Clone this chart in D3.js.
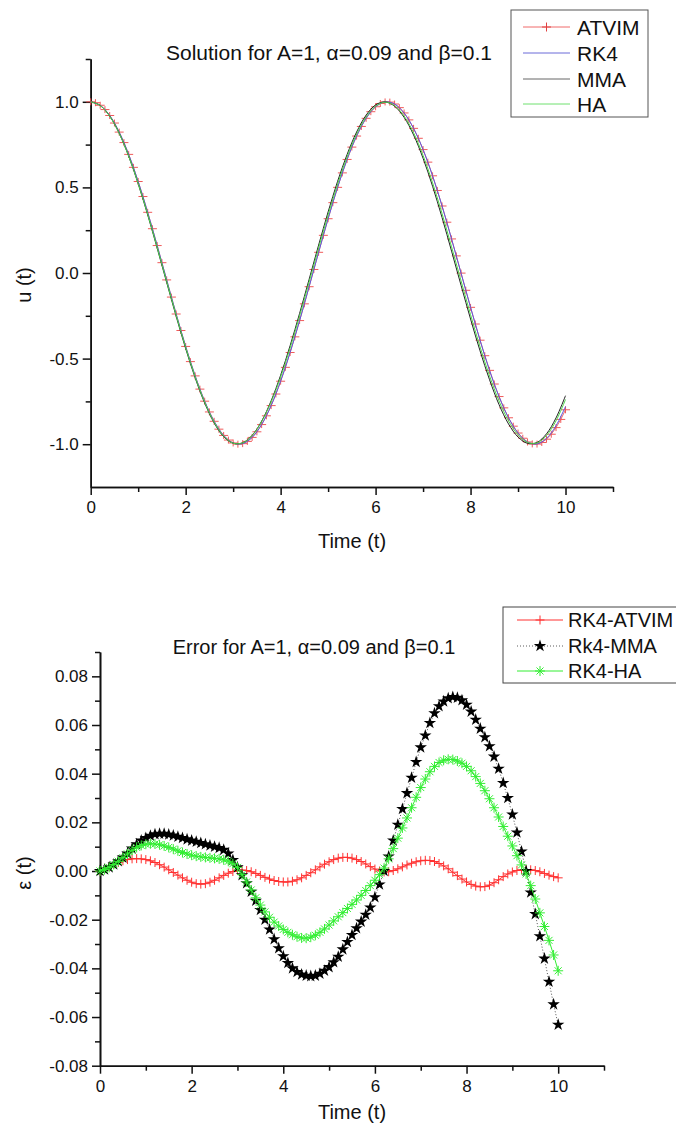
<!DOCTYPE html>
<html><head><meta charset="utf-8">
<script src="https://cdn.jsdelivr.net/npm/d3@7"></script>
<style>
body{margin:0;background:#fff}
svg{display:block}
text{font-family:"Liberation Sans",Arial,Helvetica,sans-serif;fill:#111}
</style>
</head><body>
<svg id="chart" width="676" height="1130"></svg>
<script>
// ---------- data ----------
const markerStep = 0.1;   // ATVIM markers / error markers every 0.1
const lineStep = 0.2;     // RK4 / MMA / HA curves sampled every 0.2

const xTicksMajor = [0, 2, 4, 6, 8, 10];
const xTicksMinor = [1, 3, 5, 7, 9, 11];
const uTicksMajor = [-1.0, -0.5, 0.0, 0.5, 1.0];
const uTicksMinor = [-0.75, -0.25, 0.25, 0.75, 1.25];
const eTicksMajor = [-0.08, -0.06, -0.04, -0.02, 0.00, 0.02, 0.04, 0.06, 0.08];
const eTicksMinor = [-0.07, -0.05, -0.03, -0.01, 0.01, 0.03, 0.05, 0.07, 0.09];

const topSeries = ["ATVIM", "RK4", "MMA", "HA"];
const bottomSeries = ["RK4-ATVIM", "Rk4-MMA", "RK4-HA"];

// u(t) ATVIM, t = 0..10 step 0.1
const uATVIM = [1.0000, 0.9949, 0.9798, 0.9547, 0.9200, 0.8759, 0.8230, 0.7618, 0.6929, 0.6171,
 0.5344, 0.4467, 0.3545, 0.2587, 0.1603, 0.0603, -0.0404, -0.1406, -0.2395, -0.3359,
 -0.4289, -0.5175, -0.6010, -0.6783, -0.7487, -0.8116, -0.8663, -0.9122, -0.9488, -0.9758,
 -0.9928, -0.9998, -0.9967, -0.9836, -0.9604, -0.9276, -0.8853, -0.8341, -0.7745, -0.7069,
 -0.6322, -0.5510, -0.4643, -0.3730, -0.2780, -0.1801, -0.0801, 0.0205, 0.1209, 0.2200,
 0.3170, 0.4108, 0.5003, 0.5848, 0.6634, 0.7354, 0.7999, 0.8560, 0.9036, 0.9421,
 0.9710, 0.9901, 0.9992, 0.9982, 0.9870, 0.9658, 0.9348, 0.8944, 0.8449, 0.7869,
 0.7209, 0.6476, 0.5677, 0.4820, 0.3914, 0.2968, 0.1990, 0.0999, -0.0006, -0.1011,
 -0.2005, -0.2980, -0.3925, -0.4831, -0.5686, -0.6485, -0.7217, -0.7877, -0.8456, -0.8947,
 -0.9348, -0.9651, -0.9871, -0.9982, -0.9992, -0.9900, -0.9708, -0.9417, -0.9031, -0.8553,
 -0.7990];

// u(t) curves, t = 0..10 step 0.2
const uRK4 = [1.0000, 0.9798, 0.9200, 0.8230, 0.6929, 0.5344, 0.3545, 0.1603, -0.0404, -0.2395,
 -0.4289, -0.6010, -0.7487, -0.8663, -0.9488, -0.9928, -0.9967, -0.9604, -0.8853, -0.7745,
 -0.6322, -0.4643, -0.2780, -0.0801, 0.1209, 0.3170, 0.5003, 0.6634, 0.7999, 0.9036,
 0.9710, 0.9992, 0.9870, 0.9348, 0.8449, 0.7209, 0.5677, 0.3914, 0.1990, -0.0006,
 -0.2005, -0.3925, -0.5686, -0.7217, -0.8456, -0.9348, -0.9871, -0.9985, -0.9660, -0.8920,
 -0.7800];
const uMMA = [1.0000, 0.9783, 0.9160, 0.8158, 0.6819, 0.5208, 0.3394, 0.1450, -0.0550, -0.2531,
 -0.4414, -0.6125, -0.7592, -0.8758, -0.9560, -0.9943, -0.9917, -0.9482, -0.8653, -0.7465,
 -0.5972, -0.4243, -0.2355, -0.0369, 0.1631, 0.3565, 0.5355, 0.6926, 0.8234, 0.9216,
 0.9818, 0.9992, 0.9745, 0.9093, 0.8066, 0.6701, 0.5069, 0.3237, 0.1280, -0.0718,
 -0.2688, -0.4547, -0.6236, -0.7687, -0.8818, -0.9580, -0.9951, -0.9897, -0.9392, -0.8465,
 -0.7168];
const uHA = [1.0000, 0.9783, 0.9160, 0.8160, 0.6832, 0.5234, 0.3434, 0.1500, -0.0494, -0.2471,
 -0.4354, -0.6068, -0.7541, -0.8713, -0.9528, -0.9943, -0.9922, -0.9494, -0.8685, -0.7535,
 -0.6082, -0.4381, -0.2505, -0.0529, 0.1461, 0.3392, 0.5191, 0.6788, 0.8118, 0.9116,
 0.9748, 0.9980, 0.9778, 0.9171, 0.8189, 0.6866, 0.5269, 0.3468, 0.1531, -0.0458,
 -0.2435, -0.4313, -0.6016, -0.7477, -0.8639, -0.9451, -0.9896, -0.9925, -0.9488, -0.8635,
 -0.7390];

// errors, t = 0..10 step 0.1
const errATVIM = [0.0000,
 0.0009, 0.0018, 0.0027, 0.0035, 0.0042, 0.0047, 0.0050, 0.0051, 0.0050,
 0.0047, 0.0042, 0.0035, 0.0026, 0.0016, 0.0005, -0.0006, -0.0017, -0.0028, -0.0038,
 -0.0046, -0.0052, -0.0054, -0.0052, -0.0046, -0.0038, -0.0028, -0.0018, -0.0009, -0.0002,
 0.0003, 0.0004, 0.0002, -0.0003, -0.0010, -0.0018, -0.0026, -0.0033, -0.0039, -0.0043,
 -0.0045, -0.0045, -0.0042, -0.0036, -0.0028, -0.0018, -0.0007, 0.0005, 0.0017, 0.0028,
 0.0038, 0.0047, 0.0053, 0.0056, 0.0056, 0.0053, 0.0047, 0.0039, 0.0029, 0.0018,
 0.0008, 0.0000, -0.0004, -0.0003, 0.0002, 0.0009, 0.0017, 0.0025, 0.0032, 0.0038,
 0.0042, 0.0044, 0.0043, 0.0039, 0.0031, 0.0021, 0.0009, -0.0005, -0.0019, -0.0033,
 -0.0045, -0.0055, -0.0062, -0.0065, -0.0064, -0.0058, -0.0048, -0.0036, -0.0023, -0.0012,
 -0.0004, 0.0002, 0.0005, 0.0006, 0.0005, 0.0002, -0.0003, -0.0010, -0.0017, -0.0023,
 -0.0028];
const errMMA = [0.0000,
 0.0006, 0.0015, 0.0027, 0.0040, 0.0055, 0.0072, 0.0092, 0.0110, 0.0125,
 0.0136, 0.0145, 0.0151, 0.0153, 0.0153, 0.0150, 0.0146, 0.0141, 0.0136, 0.0130,
 0.0125, 0.0120, 0.0115, 0.0110, 0.0105, 0.0100, 0.0095, 0.0087, 0.0072, 0.0045,
 0.0015, -0.0017, -0.0050, -0.0085, -0.0122, -0.0160, -0.0200, -0.0240, -0.0280, -0.0317,
 -0.0350, -0.0378, -0.0400, -0.0415, -0.0425, -0.0430, -0.0432, -0.0430, -0.0422, -0.0410,
 -0.0395, -0.0375, -0.0352, -0.0322, -0.0292, -0.0263, -0.0235, -0.0208, -0.0180, -0.0150,
 -0.0108, -0.0055, 0.0000, 0.0060, 0.0125, 0.0190, 0.0255, 0.0320, 0.0383, 0.0448,
 0.0508, 0.0557, 0.0608, 0.0648, 0.0677, 0.0697, 0.0710, 0.0715, 0.0712, 0.0702,
 0.0683, 0.0655, 0.0622, 0.0585, 0.0550, 0.0513, 0.0470, 0.0420, 0.0362, 0.0300,
 0.0232, 0.0158, 0.0080, 0.0000, -0.0088, -0.0177, -0.0268, -0.0360, -0.0455, -0.0548,
 -0.0632];
const errHA = [0.0000,
 0.0006, 0.0015, 0.0027, 0.0040, 0.0055, 0.0070, 0.0085, 0.0097, 0.0105,
 0.0110, 0.0112, 0.0111, 0.0108, 0.0103, 0.0097, 0.0090, 0.0083, 0.0076, 0.0070,
 0.0065, 0.0061, 0.0058, 0.0056, 0.0054, 0.0052, 0.0050, 0.0046, 0.0040, 0.0030,
 0.0015, -0.0015, -0.0045, -0.0078, -0.0110, -0.0140, -0.0168, -0.0190, -0.0210, -0.0226,
 -0.0240, -0.0252, -0.0262, -0.0270, -0.0275, -0.0276, -0.0272, -0.0264, -0.0252, -0.0238,
 -0.0222, -0.0205, -0.0188, -0.0171, -0.0154, -0.0137, -0.0119, -0.0100, -0.0080, -0.0060,
 -0.0038, -0.0015, 0.0012, 0.0050, 0.0092, 0.0135, 0.0177, 0.0218, 0.0260, 0.0303,
 0.0343, 0.0378, 0.0408, 0.0430, 0.0446, 0.0455, 0.0459, 0.0458, 0.0452, 0.0443,
 0.0430, 0.0412, 0.0388, 0.0360, 0.0330, 0.0297, 0.0260, 0.0222, 0.0183, 0.0143,
 0.0103, 0.0063, 0.0025, -0.0012, -0.0060, -0.0115, -0.0172, -0.0228, -0.0285, -0.0345,
 -0.0410];

// ---------- drawing ----------
const svg = d3.select("#chart");
const FONT = '"Liberation Sans",Arial,Helvetica,sans-serif';

const toPts = (arr, step) => arr.map((v, i) => [+(i * step).toFixed(2), v]);

const plusPath = "M-4.5,0H4.5M0,-4.5V4.5";
const plusPathTop = "M-4.5,0H4.5M0,-3.5V3.5";
const asteriskPath = "M-5,0H5M0,-5V5M-3.5,-3.5L3.5,3.5M-3.5,3.5L3.5,-3.5";
const starPath = d3.symbol(d3.symbolStar, 48)();

function drawAxes(g, x, y, yMajor, yMinor, yFmt, labelDx) {
  const ax = g.append("g").attr("transform", `translate(0,${y.range()[0]})`);
  ax.call(d3.axisBottom(x).tickValues(xTicksMajor).tickSize(8).tickPadding(6).tickSizeOuter(0).tickFormat(d => d));
  ax.append("g").call(d3.axisBottom(x).tickValues(xTicksMinor).tickSize(5).tickSizeOuter(0).tickFormat(""));
  const ay = g.append("g").attr("transform", `translate(${x.range()[0]},0)`);
  ay.call(d3.axisLeft(y).tickValues(yMajor).tickSize(8).tickPadding(labelDx).tickSizeOuter(0).tickFormat(yFmt));
  ay.append("g").call(d3.axisLeft(y).tickValues(yMinor).tickSize(5).tickSizeOuter(0).tickFormat(""));
  g.selectAll(".domain").attr("stroke", "#111").attr("stroke-width", 1.6);
  g.selectAll(".tick line").attr("stroke", "#111").attr("stroke-width", 1.5);
  g.selectAll(".tick text").attr("font-size", 17).attr("font-family", FONT).attr("fill", "#111");
}

// ===== top panel =====
{
  const x = d3.scaleLinear().domain([0, 11]).range([90.7, 613]);
  const y = d3.scaleLinear().domain([-1.25, 1.25]).range([487, 59]);
  const g = svg.append("g");
  drawAxes(g, x, y, uTicksMajor, uTicksMinor, d => d.toFixed(1), 4);

  const lineGen = d3.line().x(d => x(d[0])).y(d => y(d[1]));
  const curveGen = d3.line().x(d => x(d[0])).y(d => y(d[1])).curve(d3.curveCatmullRom);

  const atvim = toPts(uATVIM, markerStep);
  g.append("path").attr("d", lineGen(atvim)).attr("fill", "none").attr("stroke", "#f06a6a").attr("stroke-width", 1);
  g.append("g").selectAll("path").data(atvim).join("path")
    .attr("transform", d => `translate(${x(d[0])},${y(d[1])})`)
    .attr("d", plusPathTop).attr("stroke", "#f05a5a").attr("stroke-width", 1).attr("fill", "none");

  const curves = [[uRK4, "#5a5ae0"], [uMMA, "#222222"], [uHA, "#4cd84c"]];
  curves.forEach(([arr, col]) => {
    g.append("path").attr("d", curveGen(toPts(arr, lineStep))).attr("fill", "none")
      .attr("stroke", col).attr("stroke-width", 1);
  });

  g.append("text").attr("x", 329).attr("y", 60).attr("text-anchor", "middle").attr("font-size", 21)
    .text("Solution for A=1, α=0.09 and β=0.1");
  g.append("text").attr("x", 352).attr("y", 548).attr("text-anchor", "middle").attr("font-size", 20)
    .text("Time (t)");
  g.append("text").attr("transform", "translate(31,285) rotate(-90)").attr("text-anchor", "middle").attr("font-size", 20)
    .text("u (t)");

  // legend
  const lg = g.append("g");
  lg.append("rect").attr("x", 511).attr("y", 10).attr("width", 137).attr("height", 107)
    .attr("fill", "#fff").attr("stroke", "#555").attr("stroke-width", 1);
  const cols = ["#f06a6a", "#6a6ad8", "#666666", "#6ee06e"];
  const rowsY = [27, 53, 79, 104];
  topSeries.forEach((name, i) => {
    lg.append("line").attr("x1", 523).attr("x2", 570).attr("y1", rowsY[i]).attr("y2", rowsY[i])
      .attr("stroke", cols[i]).attr("stroke-width", 1);
    if (i === 0) lg.append("path").attr("transform", `translate(546.5,${rowsY[i]})`).attr("d", plusPath)
      .attr("stroke", "#e04040").attr("stroke-width", 1);
    lg.append("text").attr("x", 577).attr("y", rowsY[i]).attr("dy", "0.36em").attr("font-size", 21).text(name);
  });
}

// ===== bottom panel =====
{
  const x = d3.scaleLinear().domain([0, 11]).range([100, 604]);
  const y = d3.scaleLinear().domain([-0.08, 0.09]).range([1065.7, 652]);
  const g = svg.append("g");
  drawAxes(g, x, y, eTicksMajor, eTicksMinor, d => d.toFixed(2), 4);

  const lineGen = d3.line().x(d => x(d[0])).y(d => y(d[1]));

  const red = toPts(errATVIM, markerStep);
  g.append("path").attr("d", lineGen(red)).attr("fill", "none").attr("stroke", "#ff3030").attr("stroke-width", 1);
  g.append("g").selectAll("path").data(red).join("path")
    .attr("transform", d => `translate(${x(d[0])},${y(d[1])})`)
    .attr("d", plusPath).attr("stroke", "#ff3030").attr("stroke-width", 1).attr("fill", "none");

  const blk = toPts(errMMA, markerStep);
  g.append("path").attr("d", lineGen(blk)).attr("fill", "none").attr("stroke", "#222")
    .attr("stroke-width", 0.8).attr("stroke-dasharray", "1,2");
  g.append("g").selectAll("path").data(blk).join("path")
    .attr("transform", d => `translate(${x(d[0])},${y(d[1])})`)
    .attr("d", starPath).attr("fill", "#000");

  const grn = toPts(errHA, markerStep);
  g.append("path").attr("d", lineGen(grn)).attr("fill", "none").attr("stroke", "#33ee33").attr("stroke-width", 1);
  g.append("g").selectAll("path").data(grn).join("path")
    .attr("transform", d => `translate(${x(d[0])},${y(d[1])})`)
    .attr("d", asteriskPath).attr("stroke", "#33ee33").attr("stroke-width", 1).attr("fill", "none");

  g.append("text").attr("x", 314).attr("y", 654).attr("text-anchor", "middle").attr("font-size", 20)
    .text("Error for A=1, α=0.09 and β=0.1");
  g.append("text").attr("x", 352).attr("y", 1119).attr("text-anchor", "middle").attr("font-size", 20)
    .text("Time (t)");
  g.append("text").attr("transform", "translate(31,873) rotate(-90)").attr("text-anchor", "middle").attr("font-size", 20)
    .text("ε (t)");

  // legend
  const lg = g.append("g");
  lg.append("rect").attr("x", 503).attr("y", 607).attr("width", 200).attr("height", 76)
    .attr("fill", "#fff").attr("stroke", "#444").attr("stroke-width", 1);
  const rowsY = [620, 646, 671];
  const lx1 = 517, lx2 = 563, lmx = 540;
  lg.append("line").attr("x1", lx1).attr("x2", lx2).attr("y1", rowsY[0]).attr("y2", rowsY[0]).attr("stroke", "#ff3030");
  lg.append("path").attr("transform", `translate(${lmx},${rowsY[0]})`).attr("d", plusPath).attr("stroke", "#ff3030");
  lg.append("line").attr("x1", lx1).attr("x2", lx2).attr("y1", rowsY[1]).attr("y2", rowsY[1])
    .attr("stroke", "#333").attr("stroke-width", 0.8).attr("stroke-dasharray", "1,2");
  lg.append("path").attr("transform", `translate(${lmx},${rowsY[1]})`).attr("d", starPath).attr("fill", "#000");
  lg.append("line").attr("x1", lx1).attr("x2", lx2).attr("y1", rowsY[2]).attr("y2", rowsY[2]).attr("stroke", "#33ee33");
  lg.append("path").attr("transform", `translate(${lmx},${rowsY[2]})`).attr("d", asteriskPath).attr("stroke", "#33ee33");
  bottomSeries.forEach((name, i) => {
    lg.append("text").attr("x", 568).attr("y", rowsY[i]).attr("dy", "0.36em").attr("font-size", 20).text(name);
  });
}
</script>
</body></html>
